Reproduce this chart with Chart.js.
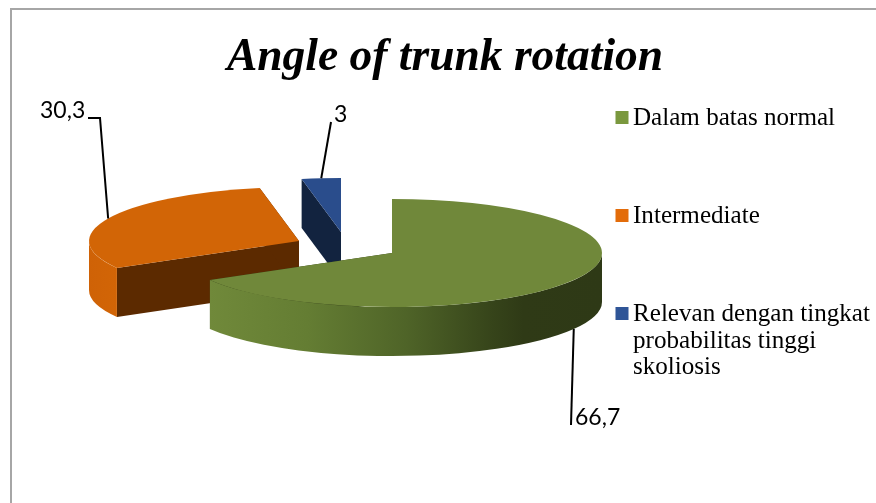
<!DOCTYPE html>
<html><head><meta charset="utf-8">
<style>html,body{margin:0;padding:0;background:#fff;overflow:hidden}#wrap{position:absolute;left:0;top:0;width:876px;height:503px}</style>
<script src="https://cdn.jsdelivr.net/npm/chart.js@4"></script>
</head><body><div id="wrap"><canvas id="c" width="876" height="503"></canvas></div>
<script>
const titleText = 'Angle of trunk rotation';
const categories = ['Dalam batas normal', 'Intermediate', 'Relevan dengan tingkat probabilitas tinggi skoliosis'];
const values = [66.7, 30.3, 3];
const valueLabels = ['66,7', '30,3', '3'];

const topColors = ['#70883a', '#d26506', '#2a4d8c'];
const faceColors = ['#2e3916', '#5c2a00', '#12233f'];
const legendColors = ['#7a983e', '#e36c0a', '#2f5597'];

const PIE = {cx: 392, cy: 253, radius: 210, squash: 54 / 210, depth: 49};
const sliceShift = [[0, 0], [-93, -12], [-51, -21]];
const drawOrder = [2, 1, 0];
const wallStops = [
  [[0, '#70893a'], [0.25, '#647d33'], [0.5, '#4f6428'], [0.72, '#36441a'], [0.8, '#2f3a16'], [1, '#2e3916']],
  [[0, '#cf6206'], [1, '#d26506']],
  [[0, '#2a4d8c'], [1, '#2a4d8c']]
];
const leaders = [
  {text: [575, 425], elbow: [[571, 425]], depth: true},
  {text: [40, 118], elbow: [[88, 118], [100, 118]], depth: false},
  {text: [334, 122], elbow: [[331, 122]], depth: false}
];
const legendRows = [125, 223, 321];
const LEGEND = {swatchX: 615.5, swatchSize: 13, textX: 633, lineH: 26.5, maxW: 245,
  font: '25.1px "Liberation Serif"', color: '#000'};
const FRAME = {x: 11, y: 9, color: '#a6a6a6', w: 2};

const pie3d = {
  id: 'pie3d',
  beforeDraw(chart) {
    const c = chart.ctx;
    c.save();
    c.strokeStyle = FRAME.color; c.lineWidth = FRAME.w;
    c.beginPath();
    c.moveTo(FRAME.x, 503); c.lineTo(FRAME.x, FRAME.y); c.lineTo(876, FRAME.y);
    c.stroke();
    c.restore();
  },
  beforeDatasetDraw() { return false; },
  afterDatasetsDraw(chart) {
    const c = chart.ctx, arcs = chart.getDatasetMeta(0).data;
    const R = arcs[0].outerRadius, Ry = R * PIE.squash, D = PIE.depth;
    for (const i of drawOrder) {
      const a = arcs[i];
      const cx = PIE.cx + sliceShift[i][0], cy = PIE.cy + sliceShift[i][1];
      const pt = t => [cx + R * Math.cos(t), cy + Ry * Math.sin(t)];
      // radial cut faces
      c.fillStyle = faceColors[i];
      for (const t of [a.startAngle, a.endAngle]) {
        const p = pt(t);
        c.beginPath();
        c.moveTo(cx, cy); c.lineTo(p[0], p[1]); c.lineTo(p[0], p[1] + D); c.lineTo(cx, cy + D);
        c.closePath(); c.fill();
      }
      // outer wall (front half only)
      const s = Math.max(a.startAngle, 0), e = Math.min(a.endAngle, Math.PI);
      if (e > s) {
        const grad = c.createLinearGradient(pt(e)[0], 0, pt(s)[0], 0);
        wallStops[i].forEach(st => grad.addColorStop(st[0], st[1]));
        c.fillStyle = grad;
        c.beginPath();
        c.ellipse(cx, cy, R, Ry, 0, s, e);
        c.ellipse(cx, cy + D, R, Ry, 0, e, s, true);
        c.closePath(); c.fill();
      }
      // top surface: the library's own arc, squashed and shifted
      c.save();
      c.translate(cx, cy);
      c.scale(1, PIE.squash);
      c.translate(-a.x, -a.y);
      a.draw(c);
      c.restore();
    }
    // leader lines and value labels
    c.save();
    c.strokeStyle = '#000'; c.lineWidth = 2; c.fillStyle = '#000';
    c.font = '23px Lato'; c.textBaseline = 'alphabetic'; c.textAlign = 'left';
    arcs.forEach((a, i) => {
      const mid = (a.startAngle + a.endAngle) / 2, l = leaders[i];
      const ax = PIE.cx + sliceShift[i][0] + R * Math.cos(mid);
      const ay = PIE.cy + sliceShift[i][1] + Ry * Math.sin(mid) + (l.depth ? D : 0);
      c.beginPath();
      c.moveTo(ax, ay);
      [...l.elbow].reverse().forEach(p => c.lineTo(p[0], p[1]));
      c.stroke();
      c.fillText(valueLabels[i], l.text[0], l.text[1]);
    });
    c.restore();
  },
  afterDraw(chart) {
    const c = chart.ctx;
    c.save();
    c.font = LEGEND.font; c.textBaseline = 'alphabetic'; c.textAlign = 'left';
    categories.forEach((label, i) => {
      const y = legendRows[i];
      c.fillStyle = legendColors[i];
      c.fillRect(LEGEND.swatchX, y - 14, LEGEND.swatchSize, LEGEND.swatchSize);
      c.fillStyle = LEGEND.color;
      let line = '', row = 0;
      label.split(' ').forEach(w => {
        const t = line ? line + ' ' + w : w;
        if (c.measureText(t).width > LEGEND.maxW && line) {
          c.fillText(line, LEGEND.textX, y + row * LEGEND.lineH);
          row++; line = w;
        } else line = t;
      });
      c.fillText(line, LEGEND.textX, y + row * LEGEND.lineH);
    });
    c.restore();
  }
};

new Chart(document.getElementById('c'), {
  type: 'pie',
  data: {
    labels: categories,
    datasets: [{data: values, backgroundColor: topColors, borderWidth: 0, hoverOffset: 0}]
  },
  options: {
    responsive: false,
    animation: false,
    events: [],
    radius: PIE.radius,
    layout: {padding: {left: 14, right: 0, top: 0, bottom: 0}},
    plugins: {
      legend: {display: false},
      tooltip: {enabled: false},
      title: {
        display: true, text: titleText, color: '#000',
        font: {family: '"Liberation Serif"', size: 45.5, style: 'italic', weight: 'bold'},
        padding: {top: 31, bottom: 5}
      }
    }
  },
  plugins: [pie3d]
});
</script></body></html>
